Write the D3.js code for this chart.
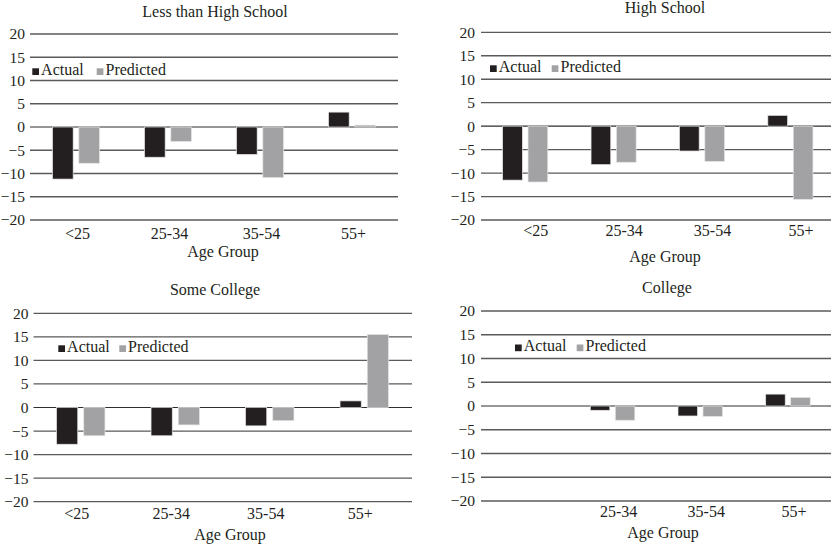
<!DOCTYPE html>
<html>
<head>
<meta charset="utf-8">
<script src="https://cdn.jsdelivr.net/npm/d3@7"></script>
</head>
<body style="margin:0;background:#fff">
<svg id="chart" width="831" height="548" style="display:block"></svg>
<script>
// ---------------- data ----------------
const categories = ["<25", "25-34", "35-54", "55+"];
const seriesNames = ["Actual", "Predicted"];
const yTicks = [20, 15, 10, 5, 0, -5, -10, -15, -20];
const xAxisTitle = "Age Group";

const panelTitles = ["Less than High School", "High School", "Some College", "College"];

const lessHSActual    = [-11.2, -6.5, -5.9, 3.2];
const lessHSPredicted = [-7.8, -3.1, -10.9, 0.4];

const hsActual    = [-11.5, -8.2, -5.3, 2.3];
const hsPredicted = [-11.9, -7.7, -7.5, -15.6];

const someColActual    = [-7.8, -6.0, -3.9, 1.4];
const someColPredicted = [-6.0, -3.7, -2.8, 15.5];

const collegeActual    = [null, -0.9, -2.1, 2.5];
const collegePredicted = [null, -3.0, -2.2, 1.8];
const collegeShownCategories = ["25-34", "35-54", "55+"];

// ---------------- layout ----------------
const FONT = '"Liberation Serif"';
const TEXT_COLOR = "#231f20";
const colors = { Actual: "#231f20", Predicted: "#a2a2a4" };

const panels = [
  { title: panelTitles[0], actual: lessHSActual, predicted: lessHSPredicted,
    left: 30, step: 92, gridRight: 398, yTop: 34, yBottom: 220, bw: 20.6, gap: 5.7,
    tickPad: 5, titleX: 215, titleY: 16.7, catY: 238.5, catDx: 1.5, axTitleX: 223, axTitleY: 257,
    legX: 32.3, legY: 68.3, legGap: 64.4, shown: categories },
  { title: panelTitles[1], actual: hsActual, predicted: hsPredicted,
    left: 481, step: 88.4, gridRight: 831, yTop: 32.3, yBottom: 220, bw: 19.7, gap: 5.7,
    tickPad: 6, titleX: 665, titleY: 12.7, catY: 235.5, catDx: 10.5, axTitleX: 665, axTitleY: 261.7,
    legX: 490, legY: 65.3, legGap: 61.7, shown: categories },
  { title: panelTitles[2], actual: someColActual, predicted: someColPredicted,
    left: 33.5, step: 94.5, gridRight: 412, yTop: 313.3, yBottom: 501.7, bw: 21.2, gap: 6,
    tickPad: 5, titleX: 215, titleY: 295, catY: 518.5, catDx: -4, axTitleX: 230, axTitleY: 540,
    legX: 58.3, legY: 345.3, legGap: 61, shown: categories },
  { title: panelTitles[3], actual: collegeActual, predicted: collegePredicted,
    left: 481, step: 87.7, gridRight: 831, yTop: 311, yBottom: 501, bw: 19.5, gap: 5.5,
    tickPad: 6, titleX: 667, titleY: 293.3, catY: 517, catDx: 6, axTitleX: 663, axTitleY: 538.3,
    legX: 515, legY: 344.5, legGap: 61.7, shown: collegeShownCategories }
];

const svg = d3.select("#chart");

function styleText(sel, size) {
  sel.style("font-family", FONT).style("font-size", size + "px").style("fill", TEXT_COLOR);
}

panels.forEach(p => {
  const g = svg.append("g");

  const y = d3.scaleLinear().domain([-20, 20]).range([p.yBottom, p.yTop]);
  const x = d3.scaleBand().domain(categories)
    .range([p.left, p.left + p.step * categories.length]).padding(0);

  // gridlines
  g.append("g").selectAll("line").data(yTicks).join("line")
    .attr("x1", p.left).attr("x2", p.gridRight)
    .attr("y1", d => y(d)).attr("y2", d => y(d))
    .attr("stroke", d => d === 0 ? "#2e2e2e" : "#5a5a5a")
    .attr("stroke-width", d => d === 0 ? 1.1 : 1.3);

  // y axis labels
  const yAxis = g.append("g")
    .attr("transform", `translate(${p.left},0)`)
    .call(d3.axisLeft(y).tickValues(yTicks).tickSize(0).tickPadding(p.tickPad).tickFormat(d3.format("d")));
  yAxis.select(".domain").remove();
  yAxis.attr("font-family", null).attr("font-size", null);
  styleText(yAxis.selectAll("text"), 15.5);

  // bars
  const rows = categories.map((c, i) => ({ cat: c, Actual: p.actual[i], Predicted: p.predicted[i] }));
  rows.forEach(r => {
    const cx = x(r.cat) + x.bandwidth() / 2;
    const inner = d3.scaleBand().domain(seriesNames)
      .range([cx - p.bw - p.gap / 2, cx + p.bw + p.gap / 2])
      .paddingInner(p.gap / (p.bw + p.gap)).paddingOuter(0);
    seriesNames.forEach(s => {
      const v = r[s];
      if (v === null || v === undefined) return;
      g.append("rect")
        .attr("x", inner(s))
        .attr("width", inner.bandwidth())
        .attr("y", y(Math.max(0, v)))
        .attr("height", Math.abs(y(v) - y(0)))
        .attr("fill", colors[s])
        .attr("stroke", "#e4e4e4")
        .attr("stroke-width", 0.7);
    });
  });

  // x axis labels
  const xAxis = g.append("g")
    .attr("transform", `translate(${p.catDx},${p.catY})`)
    .call(d3.axisBottom(x).tickSize(0).tickFormat(d => p.shown.includes(d) ? d : ""));
  xAxis.select(".domain").remove();
  xAxis.attr("font-family", null).attr("font-size", null);
  xAxis.selectAll("text").attr("y", 0).attr("dy", 0);
  styleText(xAxis.selectAll("text"), 16);

  // axis title
  styleText(g.append("text")
    .attr("x", p.axTitleX).attr("y", p.axTitleY)
    .attr("text-anchor", "middle")
    .text(xAxisTitle), 16);

  // panel title
  styleText(g.append("text")
    .attr("x", p.titleX).attr("y", p.titleY)
    .attr("text-anchor", "middle")
    .text(p.title), 16);

  // legend
  const leg = g.append("g").attr("transform", `translate(${p.legX},${p.legY})`);
  seriesNames.forEach((s, i) => {
    const lg = leg.append("g").attr("transform", `translate(${i * p.legGap},0)`);
    lg.append("rect").attr("x", 0).attr("y", 0).attr("width", 6.7).attr("height", 6.7)
      .attr("fill", colors[s]);
    styleText(lg.append("text").attr("x", 8.8).attr("y", 6.8).text(s), 16);
  });
});
</script>
</body>
</html>
